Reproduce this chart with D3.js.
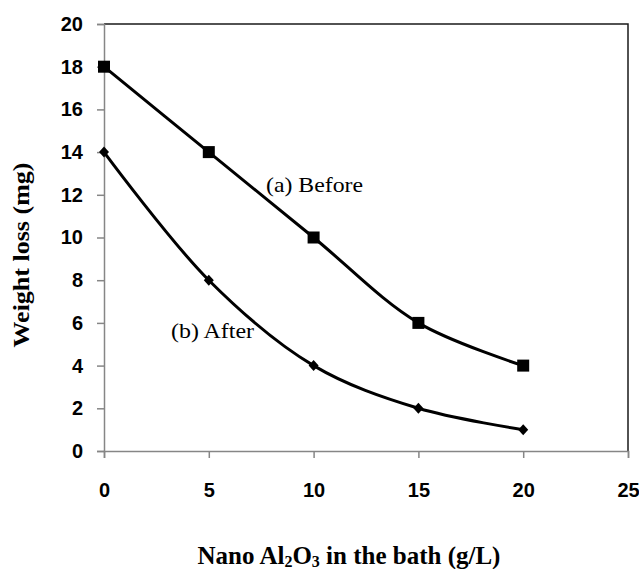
<!DOCTYPE html>
<html>
<head>
<meta charset="utf-8">
<script src="https://cdn.jsdelivr.net/npm/d3@7"></script>
<style>
  html, body { margin: 0; padding: 0; background: #fff; }
  svg { display: block; }
</style>
</head>
<body>
<svg id="chart" width="639" height="569"></svg>
<script>
// Concentration of nano Al2O3 in the bath (g/L)
const concentration = [0, 5, 10, 15, 20];
// Weight loss (mg) before and after treatment
const before = [18, 14, 10, 6, 4];
const after = [14, 8, 4, 2, 1];
const xTicks = [0, 5, 10, 15, 20, 25];
const yTicks = [0, 2, 4, 6, 8, 10, 12, 14, 16, 18, 20];

const svg = d3.select("#chart");
const plotLeft = 104, plotRight = 628, plotTop = 24, plotBottom = 451;

const x = d3.scaleLinear().domain([0, 25]).range([plotLeft, plotRight]);
const y = d3.scaleLinear().domain([0, 20]).range([plotBottom, plotTop]);

const axisColor = "#868686";
const tickFont = "'Liberation Sans', Arial, sans-serif";
const serif = "'Liberation Serif', 'Times New Roman', serif";

// Plot-area frame (top and right edges)
svg.append("path")
  .attr("d", `M${plotLeft},${plotTop}H${plotRight}V${plotBottom}`)
  .attr("fill", "none")
  .attr("stroke", "#1a1a1a")
  .attr("stroke-width", 1.5);

// Y axis
const yAxis = svg.append("g")
  .attr("transform", `translate(${plotLeft},0)`)
  .call(d3.axisLeft(y).tickValues(yTicks).tickSize(7).tickPadding(14).tickFormat(d3.format("d")));
yAxis.select(".domain").attr("stroke", axisColor).attr("stroke-width", 1.5);
yAxis.selectAll(".tick line").attr("stroke", axisColor).attr("stroke-width", 1.5);
yAxis.selectAll(".tick text")
  .attr("font-family", tickFont).attr("font-weight", "bold")
  .attr("font-size", 20).attr("fill", "#000");

// X axis
const xAxis = svg.append("g")
  .attr("transform", `translate(0,${plotBottom})`)
  .call(d3.axisBottom(x).tickValues(xTicks).tickSize(7).tickPadding(25).tickFormat(d3.format("d")));
xAxis.select(".domain").attr("stroke", axisColor).attr("stroke-width", 1.5);
xAxis.selectAll(".tick line").attr("stroke", axisColor).attr("stroke-width", 1.5);
xAxis.selectAll(".tick text")
  .attr("font-family", tickFont).attr("font-weight", "bold")
  .attr("font-size", 20).attr("fill", "#000");

// Smoothed series lines
const line = d3.line()
  .x((d, i) => x(concentration[i]))
  .y(d => y(d))
  .curve(d3.curveCatmullRom.alpha(0.5));

[before, after].forEach(series => {
  svg.append("path")
    .datum(series)
    .attr("d", line)
    .attr("fill", "none")
    .attr("stroke", "#000")
    .attr("stroke-width", 3);
});

// Square markers for "Before"
svg.append("g").selectAll("rect")
  .data(before)
  .join("rect")
  .attr("x", (d, i) => x(concentration[i]) - 6)
  .attr("y", d => y(d) - 6)
  .attr("width", 12)
  .attr("height", 12)
  .attr("fill", "#000");

// Diamond markers for "After"
svg.append("g").selectAll("path")
  .data(after)
  .join("path")
  .attr("transform", (d, i) => `translate(${x(concentration[i])},${y(d)})`)
  .attr("d", "M0,-5.5L5,0L0,5.5L-5,0Z")
  .attr("fill", "#000");

// Series labels
svg.append("text")
  .attr("x", 266).attr("y", 192)
  .attr("font-family", serif).attr("font-size", 22)
  .attr("textLength", 97).attr("lengthAdjust", "spacingAndGlyphs")
  .text("(a) Before");
svg.append("text")
  .attr("x", 171).attr("y", 338)
  .attr("font-family", serif).attr("font-size", 22)
  .attr("textLength", 83).attr("lengthAdjust", "spacingAndGlyphs")
  .text("(b) After");

// Axis titles
svg.append("text")
  .attr("transform", "translate(29,255) rotate(-90)")
  .attr("text-anchor", "middle")
  .attr("font-family", serif).attr("font-weight", "bold").attr("font-size", 24)
  .attr("textLength", 185).attr("lengthAdjust", "spacingAndGlyphs")
  .text("Weight loss (mg)");

const xt = svg.append("text")
  .attr("x", 349).attr("y", 564)
  .attr("text-anchor", "middle")
  .attr("font-family", serif).attr("font-weight", "bold").attr("font-size", 25);
xt.append("tspan").text("Nano Al");
xt.append("tspan").attr("font-size", 16).attr("dy", 3).text("2");
xt.append("tspan").attr("dy", -3).text("O");
xt.append("tspan").attr("font-size", 16).attr("dy", 3).text("3");
xt.append("tspan").attr("dy", -3).text(" in the bath (g/L)");
</script>
</body>
</html>
